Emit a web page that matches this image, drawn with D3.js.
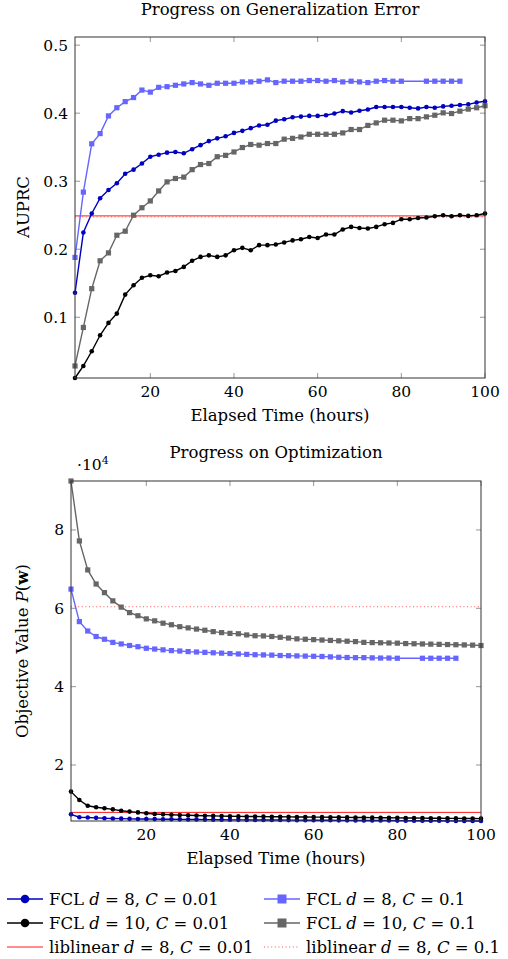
<!DOCTYPE html>
<html>
<head>
<meta charset="utf-8">
<script src="https://cdn.jsdelivr.net/npm/d3@7"></script>
<style>
body { margin: 0; background: #fff; }
svg text { font-family: "DejaVu Serif", "Liberation Serif", serif; fill: #000; font-size: 16.5px; }
</style>
</head>
<body>
<svg id="chart" width="508" height="959"></svg>
<script>
// elapsed hours (the C = 0.1, d = 8 run has no points at 82 and 84)
var hoursAll = [2,4,6,8,10,12,14,16,18,20,22,24,26,28,30,32,34,36,38,40,
  42,44,46,48,50,52,54,56,58,60,62,64,66,68,70,72,74,76,78,80,
  82,84,86,88,90,92,94,96,98,100];
var hoursD8C01 = [2,4,6,8,10,12,14,16,18,20,22,24,26,28,30,32,34,36,38,40,
  42,44,46,48,50,52,54,56,58,60,62,64,66,68,70,72,74,76,78,80,
  86,88,90,92,94];

// AUPRC (top panel)
var auprcD8C001 = [0.136,0.2245,0.2525,0.275,0.287,0.297,0.311,0.317,0.326,0.336,
  0.339,0.342,0.343,0.341,0.347,0.353,0.359,0.363,0.366,0.371,
  0.374,0.378,0.382,0.383,0.389,0.391,0.394,0.395,0.396,0.396,
  0.397,0.3995,0.403,0.401,0.4035,0.4055,0.409,0.409,0.409,0.409,
  0.408,0.407,0.409,0.408,0.410,0.411,0.412,0.413,0.4157,0.4176];
var auprcD8C01 = [0.188,0.284,0.355,0.370,0.396,0.408,0.417,0.423,0.434,0.431,
  0.438,0.439,0.441,0.443,0.445,0.443,0.441,0.444,0.444,0.444,
  0.446,0.446,0.447,0.449,0.445,0.447,0.447,0.447,0.448,0.448,
  0.447,0.448,0.446,0.447,0.446,0.445,0.447,0.448,0.447,0.447,
  0.447,0.447,0.447,0.447,0.447];
var auprcD10C001 = [0.0107,0.0284,0.050,0.0735,0.0917,0.1054,0.1333,0.147,0.158,0.1618,
  0.1603,0.1657,0.168,0.174,0.183,0.1887,0.191,0.1887,0.191,0.1985,
  0.202,0.1985,0.206,0.206,0.207,0.210,0.213,0.2147,0.218,0.2166,
  0.2216,0.2216,0.229,0.2328,0.2313,0.2304,0.2328,0.2368,0.2387,0.2441,
  0.2441,0.246,0.2466,0.2485,0.250,0.2485,0.250,0.249,0.250,0.2525];
var auprcD10C01 = [0.0284,0.085,0.142,0.183,0.1946,0.2206,0.2265,0.250,0.261,0.271,
  0.2857,0.299,0.304,0.306,0.317,0.3245,0.326,0.336,0.338,0.343,
  0.3495,0.354,0.353,0.3554,0.3554,0.3618,0.363,0.365,0.369,0.369,
  0.369,0.369,0.371,0.376,0.376,0.382,0.3857,0.3897,0.3897,0.3887,
  0.392,0.392,0.3946,0.397,0.4005,0.3995,0.403,0.406,0.408,0.411];
var auprcLibC001 = 0.249;
var auprcLibC01 = 0.2475;

// objective value P(w) (bottom panel)
var objD8C001 = [7400,6650,6600,6500,6400,6350,6300,6250,6220,6200,
  6180,6160,6140,6120,6100,6080,6060,6040,6020,6000,
  5990,5980,5970,5960,5950,5940,5930,5920,5910,5900,
  5890,5880,5870,5860,5850,5840,5830,5820,5810,5800,
  5790,5780,5770,5760,5750,5740,5730,5720,5710,5700];
var objD8C01 = [64900,56600,54200,52800,52100,51300,50900,50500,50200,49800,
  49600,49400,49200,49100,48950,48850,48750,48650,48550,48450,
  48350,48250,48150,48100,48050,47950,47900,47850,47800,47750,
  47700,47600,47500,47450,47400,47400,47350,47300,47300,47250,
  47250,47250,47250,47250,47250];
var objD10C001 = [13200,11050,9600,9200,8940,8680,8330,8100,7900,7660,
  7500,7400,7300,7200,7150,7100,7050,7000,6950,6900,
  6880,6860,6840,6820,6800,6780,6760,6740,6720,6700,
  6680,6660,6640,6620,6600,6580,6560,6540,6520,6500,
  6480,6460,6440,6420,6400,6380,6360,6340,6320,6300];
var objD10C01 = [92500,77200,69800,66200,64000,61900,60300,58900,58100,57300,
  56800,56200,55800,55300,55000,54700,54400,54050,53800,53600,
  53500,53200,53000,52950,52800,52600,52400,52200,52100,52000,
  51900,51800,51700,51600,51500,51300,51250,51200,51150,51100,
  51000,50950,50900,50850,50800,50750,50700,50650,50600,50500];
var objLibC001 = 7900;
var objLibC01 = 60400;

// tick values
var xTicks = [20, 40, 60, 80, 100];
var auprcTicks = [0.1, 0.2, 0.3, 0.4, 0.5];
var objTicks = [20000, 40000, 60000, 80000];

var series = [
  {d: '8', c: '0.01', hours: hoursAll, auprc: auprcD8C001, obj: objD8C001, color: '#0000bf', marker: 'circle'},
  {d: '8', c: '0.1', hours: hoursD8C01, auprc: auprcD8C01, obj: objD8C01, color: '#6666ff', marker: 'square'},
  {d: '10', c: '0.01', hours: hoursAll, auprc: auprcD10C001, obj: objD10C001, color: '#000000', marker: 'circle'},
  {d: '10', c: '0.1', hours: hoursAll, auprc: auprcD10C01, obj: objD10C01, color: '#666666', marker: 'square'}
];
var liblinear = [
  {d: '8', c: '0.01', auprc: auprcLibC001, obj: objLibC001, color: '#ff1a1a', dash: null},
  {d: '8', c: '0.1', auprc: auprcLibC01, obj: objLibC01, color: '#ff5555', dash: '1,2.6'}
];

var svg = d3.select('#chart');

// write text made of plain / italic / bold pieces
function richText(sel, parts) {
  parts.forEach(function(p) {
    var t = sel.append('tspan').text(p[0]);
    if (p[1] == 'i') t.style('font-style', 'italic');
    if (p[1] == 'b') t.style('font-weight', 'bold');
  });
  return sel;
}

function drawMarker(g, type, cx, cy, color) {
  if (type == 'circle') {
    g.append('circle').attr('cx', cx).attr('cy', cy).attr('r', 2.3).style('fill', color);
  } else {
    g.append('rect').attr('x', cx - 2.6).attr('y', cy - 2.6)
      .attr('width', 5.2).attr('height', 5.2).style('fill', color);
  }
}

// one panel of the figure
function drawPanel(box, key, yDomain, yTicks, yFmt, libKey) {
  var x = d3.scaleLinear().domain([2, 100]).range([box.left, box.right]);
  var y = d3.scaleLinear().domain(yDomain).range([box.bottom, box.top]);
  var g = svg.append('g');

  // ticks on all four sides, pointing inward
  var ticks = g.append('g').style('stroke', '#8a8a8a').style('stroke-width', 0.9);
  xTicks.forEach(function(t) {
    ticks.append('line').attr('x1', x(t)).attr('x2', x(t)).attr('y1', box.bottom).attr('y2', box.bottom - 5);
    ticks.append('line').attr('x1', x(t)).attr('x2', x(t)).attr('y1', box.top).attr('y2', box.top + 5);
    g.append('text').attr('x', x(t)).attr('y', box.bottom + 19)
      .attr('text-anchor', 'middle').style('font-size', '15.5px').text(t);
  });
  yTicks.forEach(function(t) {
    ticks.append('line').attr('x1', box.left).attr('x2', box.left + 5).attr('y1', y(t)).attr('y2', y(t));
    ticks.append('line').attr('x1', box.right).attr('x2', box.right - 5).attr('y1', y(t)).attr('y2', y(t));
    g.append('text').attr('x', box.left - 7).attr('y', y(t) + 5.5)
      .attr('text-anchor', 'end').style('font-size', '15.5px').text(yFmt(t));
  });

  // liblinear reference lines
  liblinear.forEach(function(s) {
    g.append('line')
      .attr('x1', box.left).attr('x2', box.right)
      .attr('y1', y(s[libKey])).attr('y2', y(s[libKey]))
      .style('stroke', s.color).style('stroke-width', 1)
      .style('stroke-dasharray', s.dash);
  });

  // FCL runs
  series.forEach(function(s) {
    var pts = s.hours.map(function(h, i) { return [h, s[key][i]]; });
    var line = d3.line()
      .x(function(d) { return x(d[0]); })
      .y(function(d) { return y(d[1]); });
    g.append('path')
      .datum(pts)
      .attr('d', line)
      .style('fill', 'none')
      .style('stroke', s.color)
      .style('stroke-width', 1.4);
    pts.forEach(function(d) {
      drawMarker(g, s.marker, x(d[0]), y(d[1]), s.color);
    });
  });

  // frame
  g.append('rect')
    .attr('x', box.left).attr('y', box.top)
    .attr('width', box.right - box.left).attr('height', box.bottom - box.top)
    .style('fill', 'none').style('stroke', '#333').style('stroke-width', 1);

  // x label
  g.append('text')
    .attr('x', (box.left + box.right) / 2).attr('y', box.bottom + 43)
    .attr('text-anchor', 'middle')
    .text('Elapsed Time (hours)');
  return g;
}

// top: AUPRC
drawPanel({left: 75, right: 485, top: 37, bottom: 378}, 'auprc',
  [d3.min(auprcD10C001), 0.512], auprcTicks, d3.format('.1f'), 'auprc');
svg.append('text').attr('x', 280).attr('y', 15).attr('text-anchor', 'middle')
  .text('Progress on Generalization Error');
svg.append('text').attr('transform', 'translate(29,207) rotate(-90)')
  .attr('text-anchor', 'middle').text('AUPRC');

// bottom: objective value
var objAll = [].concat(objD8C001, objD8C01, objD10C001, objD10C01);
drawPanel({left: 71, right: 481, top: 481, bottom: 821}, 'obj',
  d3.extent(objAll), objTicks, function(v) { return v / 10000; }, 'obj');
svg.append('text').attr('x', 276).attr('y', 458).attr('text-anchor', 'middle')
  .text('Progress on Optimization');
var exp = svg.append('text').attr('x', 77).attr('y', 470).style('font-size', '15.5px');
exp.append('tspan').text('\u00b710');
exp.append('tspan').attr('dy', -6).style('font-size', '11px').text('4');
richText(svg.append('text').attr('transform', 'translate(28,651) rotate(-90)')
  .attr('text-anchor', 'middle'),
  [['Objective Value ', ''], ['P', 'i'], ['(', ''], ['w', 'b'], [')', '']]);

// legend: two columns, three rows
var legendItems = series.map(function(s) {
  return {label: 'FCL', d: s.d, c: s.c, color: s.color, marker: s.marker, dash: null, width: 1.4};
}).concat(liblinear.map(function(s) {
  return {label: 'liblinear', d: s.d, c: s.c, color: s.color, marker: null, dash: s.dash, width: 1};
}));
var legend = svg.append('g');
legendItems.forEach(function(it, i) {
  var col = i % 2, row = Math.floor(i / 2);
  var lx = col == 0 ? 7 : 264;
  var ly = [899, 923, 947][row];
  legend.append('line')
    .attr('x1', lx).attr('x2', lx + 36).attr('y1', ly).attr('y2', ly)
    .style('stroke', it.color).style('stroke-width', it.width)
    .style('stroke-dasharray', it.dash);
  if (it.marker) {
    if (it.marker == 'circle') {
      legend.append('circle').attr('cx', lx + 18).attr('cy', ly).attr('r', 4.3).style('fill', it.color);
    } else {
      legend.append('rect').attr('x', lx + 13.5).attr('y', ly - 4.5)
        .attr('width', 9).attr('height', 9).style('fill', it.color);
    }
  }
  richText(legend.append('text').attr('x', lx + 42).attr('y', ly + 5.5),
    [[it.label + ' ', ''], ['d', 'i'], [' = ' + it.d + ', ', ''], ['C', 'i'], [' = ' + it.c, '']]);
});
</script>
</body>
</html>
